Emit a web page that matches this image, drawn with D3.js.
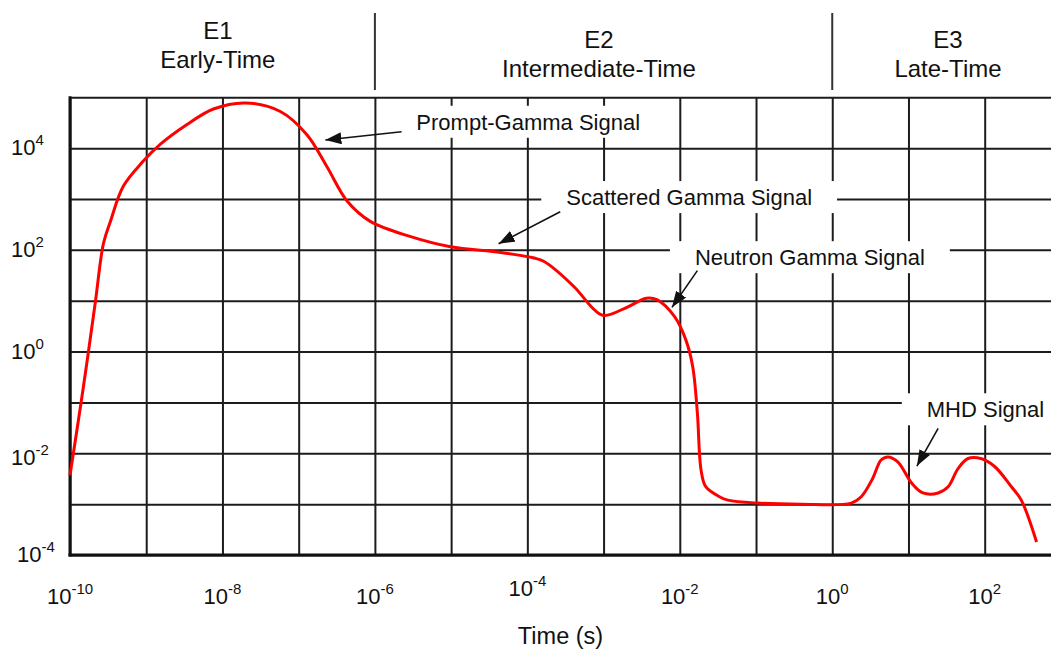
<!DOCTYPE html>
<html lang="en">
<head>
<meta charset="utf-8">
<title>Signal versus time</title>
<script src="https://d3js.org/d3.v7.min.js"></script>
<style>
  html, body { margin: 0; padding: 0; background: #fff; }
  svg { display: block; }
  text { font-family: Arial, "Liberation Sans", sans-serif; fill: #111; }
  .grid line { stroke: #1c1c1c; stroke-width: 2px; }
  .grid path { display: none; }
  .frame { stroke: #111; stroke-width: 3px; }
  .sep { stroke: #333; stroke-width: 2px; }
  .signal { fill: none; stroke: #ff0000; stroke-width: 3px; stroke-linejoin: round; }
  .arrow { stroke: #111; stroke-width: 1.6px; }
</style>
</head>
<body>
<svg width="1051" height="651"></svg>
<script>
// signal curve
const times = [1e-10, 1.48e-10, 2.14e-10, 2.75e-10, 3.39e-10, 5e-10, 9.1e-10, 1.51e-9, 3.39e-9, 7.6e-9,
  2e-8, 5.75e-8, 1.29e-7, 2.34e-7, 4.37e-7, 8.7e-7, 2.95e-6, 9.8e-6, 4.47e-5, 1.23e-4,
  1.66e-4, 4.07e-4, 7.6e-4, 1.02e-3, 2.09e-3, 3.63e-3, 5e-3, 8.5e-3, 1.2e-2, 1.48e-2,
  1.7e-2, 1.9e-2, 2.19e-2, 3.31e-2, 4.27e-2, 0.105, 0.39, 1.78, 2.4, 3.39,
  4.37, 5.37, 7.24, 11, 15.5, 24.5, 33.1, 44.7, 60.3, 91.2,
  135, 224, 302, 479];
const signal = [3.7e-3, 0.178, 8.9, 135, 363, 1780, 5500, 11700, 28800, 58900,
  77600, 52500, 18200, 4360, 891, 363, 182, 115, 89, 69,
  59, 19, 6.6, 5.1, 7.6, 11.2, 10.5, 4.9, 1.7, 0.5,
  0.062, 4.7e-3, 2.2e-3, 1.4e-3, 1.2e-3, 1.05e-3, 1e-3, 1.05e-3, 1.4e-3, 3.2e-3,
  7.4e-3, 8.5e-3, 6.8e-3, 2.6e-3, 1.66e-3, 1.66e-3, 2.2e-3, 5e-3, 7.9e-3, 7.8e-3,
  5.5e-3, 2.2e-3, 1.2e-3, 1.8e-4];

const xGrid = [1e-10, 1e-9, 1e-8, 1e-7, 1e-6, 1e-5, 1e-4, 1e-3, 1e-2, 1e-1, 1, 10, 100];
const yGrid = [1e-4, 1e-3, 1e-2, 1e-1, 1, 10, 100, 1e3, 1e4, 1e5];
const xTicks = [1e-10, 1e-8, 1e-6, 1e-4, 1e-2, 1, 100];
const xTickExp = ["-10", "-8", "-6", "-4", "-2", "0", "2"];
const yTicks = [1e-4, 1e-2, 1, 100, 1e4];
const yTickExp = ["-4", "-2", "0", "2", "4"];

const phaseNames = ["E1", "E2", "E3"];
const phaseTitles = ["Early-Time", "Intermediate-Time", "Late-Time"];
const phaseCenters = [8.7e-9, 8.7e-4, 33];
const phaseBounds = [1e-6, 1];

const notes = [
  { text: "Prompt-Gamma Signal", at: [3.5e-6, 2.3e4], from: [2.24e-6, 2.1e4], to: [2.24e-7, 1.45e4] },
  { text: "Scattered Gamma Signal", at: [3.24e-4, 760], from: [2.7e-4, 562], to: [4.2e-5, 132] },
  { text: "Neutron Gamma Signal", at: [1.58e-2, 50], from: [1.7e-2, 39], to: [7.9e-3, 7.4] },
  { text: "MHD Signal", at: [17.4, 0.051], from: [24.5, 0.031], to: [12.9, 5.6e-3] }
];

const svg = d3.select("svg");
const plotL = 70, plotR = 1051, plotT = 97.3, plotB = 555;

const x = d3.scaleLog().domain([1e-10, 741]).range([plotL, plotR]);
const y = d3.scaleLog().domain([1e-4, 1e5]).range([plotB, plotT]);

// grid
svg.append("g").attr("class", "grid")
  .attr("transform", `translate(0,${plotB})`)
  .call(d3.axisBottom(x).tickValues(xGrid).tickSize(-(plotB - plotT)).tickFormat(""));
svg.append("g").attr("class", "grid")
  .attr("transform", `translate(${plotL},0)`)
  .call(d3.axisLeft(y).tickValues(yGrid).tickSize(-(plotR - plotL)).tickFormat(""));

svg.append("line").attr("class", "frame")
  .attr("x1", x(1e-10)).attr("x2", x(1e-10)).attr("y1", plotT - 1).attr("y2", plotB + 1.5);
svg.append("line").attr("class", "frame")
  .attr("x1", plotL - 1.5).attr("x2", plotR).attr("y1", y(1e-4)).attr("y2", y(1e-4));

// phase header
svg.append("g").selectAll("line").data(phaseBounds).join("line")
  .attr("class", "sep")
  .attr("x1", d => x(d)).attr("x2", d => x(d))
  .attr("y1", 13).attr("y2", 90);

const headerDy = [-9, 0, 0];
phaseNames.forEach((n, i) => {
  svg.append("text").attr("x", x(phaseCenters[i])).attr("y", 48 + headerDy[i])
    .attr("text-anchor", "middle").attr("font-size", 24).text(n);
  svg.append("text").attr("x", x(phaseCenters[i])).attr("y", 77 + headerDy[i])
    .attr("text-anchor", "middle").attr("font-size", 24).text(phaseTitles[i]);
});

// tick labels
const xl = svg.append("g").selectAll("text").data(xTicks).join("text")
  .attr("x", d => x(d))
  .attr("y", (d, i) => 604 + (xTickExp[i] === "-4" ? -8 : 0))
  .attr("text-anchor", "middle")
  .attr("font-size", 22);
xl.append("tspan").text("10");
xl.append("tspan").attr("dy", -10).attr("font-size", 15).text((d, i) => xTickExp[i]);

const yl = svg.append("g").selectAll("text").data(yTicks).join("text")
  .attr("x", (d, i) => 11 + (i === 0 ? 6 : 0))
  .attr("y", (d, i) => y(d) + 7 + (i === 1 ? 5 : 0))
  .attr("font-size", 22);
yl.append("tspan").text("10");
yl.append("tspan").attr("dy", -10).attr("font-size", 15).text((d, i) => yTickExp[i]);

svg.append("text").attr("x", (plotL + plotR) / 2).attr("y", 644)
  .attr("text-anchor", "middle").attr("font-size", 23.5).text("Time (s)");

// annotation labels sit on white boxes that cut the grid
const pad = 25;
notes.forEach(n => {
  const g = svg.append("g");
  const t = g.append("text").attr("x", x(n.at[0])).attr("y", y(n.at[1]))
    .attr("font-size", 22).text(n.text);
  const b = t.node().getBBox();
  g.insert("rect", "text")
    .attr("x", b.x - pad).attr("y", b.y - 4)
    .attr("width", b.width + 2 * pad).attr("height", b.height + 7)
    .attr("fill", "#fff");
});

// signal
const line = d3.line()
  .x(d => x(d[0])).y(d => y(d[1]))
  .curve(d3.curveCatmullRom.alpha(0.5));
svg.append("path").datum(times.map((t, i) => [t, signal[i]]))
  .attr("class", "signal").attr("d", line);

// arrows
svg.append("defs").append("marker")
  .attr("id", "head").attr("markerUnits", "userSpaceOnUse")
  .attr("markerWidth", 17).attr("markerHeight", 12)
  .attr("refX", 16).attr("refY", 6).attr("orient", "auto")
  .append("path").attr("d", "M0,0L16,6L0,12Z").attr("fill", "#111");

svg.append("g").selectAll("line").data(notes).join("line")
  .attr("class", "arrow")
  .attr("x1", d => x(d.from[0])).attr("y1", d => y(d.from[1]))
  .attr("x2", d => x(d.to[0])).attr("y2", d => y(d.to[1]))
  .attr("marker-end", "url(#head)");
</script>
</body>
</html>
